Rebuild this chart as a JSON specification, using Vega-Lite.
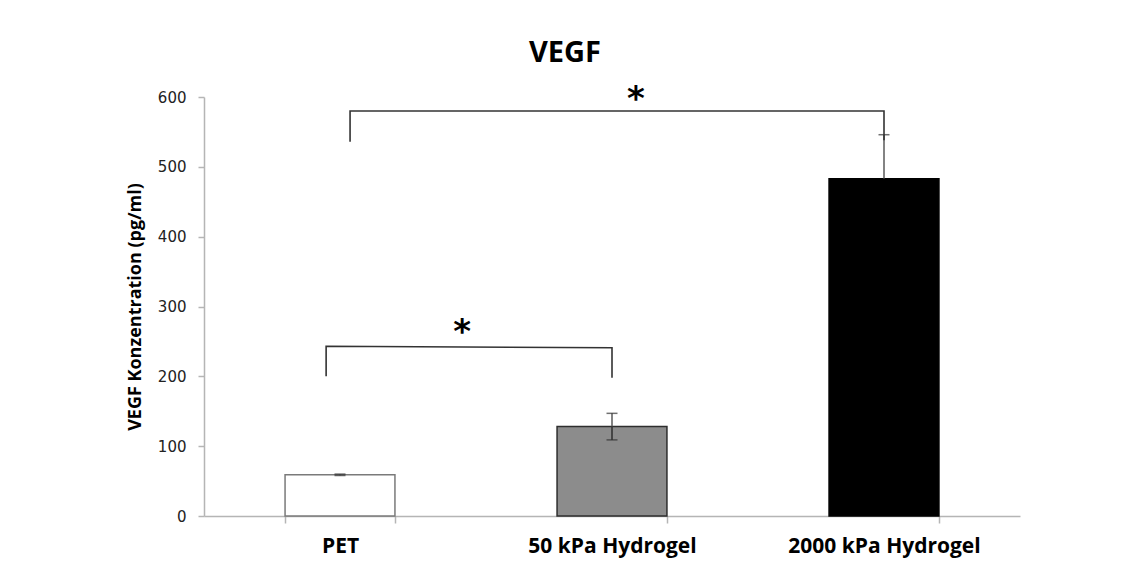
{
  "$schema": "https://vega.github.io/schema/vega-lite/v6.json",
  "width": 816,
  "height": 419,
  "autosize": {"type": "none"},
  "padding": {"left": 204, "top": 97, "right": 113, "bottom": 59},
  "background": "white",
  "title": {
    "text": "VEGF",
    "font": "Open Sans",
    "fontSize": 29,
    "fontWeight": "bold",
    "color": "#000000",
    "anchor": "middle",
    "frame": "group",
    "dx": -47,
    "offset": 15
  },
  "datasets": {
    "groups": [
      {"material": "PET", "mean": 59, "lo": 58, "hi": 60},
      {"material": "50 kPa Hydrogel", "mean": 128, "lo": 109, "hi": 147},
      {"material": "2000 kPa Hydrogel", "mean": 483, "lo": 420, "hi": 546}
    ],
    "brackets": [
      {"pair": "PET vs 50 kPa", "step": 1, "pos": 0.449, "v": 200},
      {"pair": "PET vs 50 kPa", "step": 2, "pos": 0.449, "v": 243},
      {"pair": "PET vs 50 kPa", "step": 3, "pos": 1.5, "v": 241},
      {"pair": "PET vs 50 kPa", "step": 4, "pos": 1.5, "v": 198},
      {"pair": "PET vs 2000 kPa", "step": 1, "pos": 0.537, "v": 536},
      {"pair": "PET vs 2000 kPa", "step": 2, "pos": 0.537, "v": 580},
      {"pair": "PET vs 2000 kPa", "step": 3, "pos": 2.5, "v": 580},
      {"pair": "PET vs 2000 kPa", "step": 4, "pos": 2.5, "v": 538}
    ],
    "stars": [
      {"pair": "PET vs 50 kPa", "pos": 0.949, "v": 262, "label": "*"},
      {"pair": "PET vs 2000 kPa", "pos": 1.588, "v": 596, "label": "*"}
    ]
  },
  "config": {
    "view": {"stroke": null},
    "axis": {"grid": false}
  },
  "resolve": {"scale": {"x": "independent"}},
  "layer": [
    {
      "data": {"name": "groups"},
      "encoding": {
        "x": {
          "field": "material",
          "type": "nominal",
          "sort": null,
          "scale": {"paddingInner": 0.596, "paddingOuter": 0.298},
          "axis": {
            "title": null,
            "labelAngle": 0,
            "labelFont": "Open Sans",
            "labelFontSize": 21,
            "labelFontWeight": "bold",
            "labelColor": "#000000",
            "labelLimit": 0,
            "labelPadding": 12,
            "tickBand": "extent",
            "tickSize": 7,
            "tickWidth": 1.5,
            "domainWidth": 1.5,
            "tickColor": "#b5b5b5",
            "domainColor": "#b5b5b5"
          }
        }
      },
      "layer": [
        {
          "mark": {"type": "bar", "strokeWidth": 1.5},
          "encoding": {
            "y": {
              "field": "mean",
              "type": "quantitative",
              "scale": {"domain": [0, 600], "nice": false},
              "axis": {
                "title": "VEGF Konzentration (pg/ml)",
                "values": [0, 100, 200, 300, 400, 500, 600],
                "labelFont": "DejaVu Sans",
                "labelFontSize": 15,
                "labelColor": "#222222",
                "labelPadding": 12,
                "tickSize": 6,
                "tickWidth": 1.5,
                "domainWidth": 1.5,
                "tickColor": "#b5b5b5",
                "domainColor": "#b5b5b5",
                "titleFont": "Open Sans",
                "titleFontSize": 18,
                "titleFontWeight": "bold",
                "titleColor": "#000000",
                "titlePadding": 13
              }
            },
            "fill": {
              "field": "material",
              "type": "nominal",
              "scale": {
                "domain": ["PET", "50 kPa Hydrogel", "2000 kPa Hydrogel"],
                "range": ["#ffffff", "#8c8c8c", "#000000"]
              },
              "legend": null
            },
            "stroke": {
              "field": "material",
              "type": "nominal",
              "scale": {
                "domain": ["PET", "50 kPa Hydrogel", "2000 kPa Hydrogel"],
                "range": ["#7a7a7a", "#2e2e2e", "#000000"]
              },
              "legend": null
            }
          }
        },
        {
          "mark": {"type": "rule", "color": "#5a5a5a", "strokeWidth": 1.5},
          "encoding": {
            "y": {"field": "mean", "type": "quantitative", "title": "VEGF Konzentration (pg/ml)"},
            "y2": {"field": "hi"}
          }
        },
        {
          "mark": {"type": "rule", "strokeWidth": 1.5},
          "encoding": {
            "y": {"field": "lo", "type": "quantitative", "title": "VEGF Konzentration (pg/ml)"},
            "y2": {"field": "mean"},
            "stroke": {
              "field": "material",
              "type": "nominal",
              "scale": {
                "domain": ["PET", "50 kPa Hydrogel", "2000 kPa Hydrogel"],
                "range": ["#444444", "#444444", "#000000"]
              },
              "legend": null
            }
          }
        },
        {
          "mark": {"type": "tick", "color": "#333333", "thickness": 1.5, "size": 11},
          "encoding": {
            "y": {"field": "hi", "type": "quantitative", "title": "VEGF Konzentration (pg/ml)"}
          }
        },
        {
          "mark": {"type": "tick", "thickness": 1.5, "size": 11},
          "encoding": {
            "y": {"field": "lo", "type": "quantitative", "title": "VEGF Konzentration (pg/ml)"},
            "color": {
              "field": "material",
              "type": "nominal",
              "scale": {
                "domain": ["PET", "50 kPa Hydrogel", "2000 kPa Hydrogel"],
                "range": ["#333333", "#333333", "#000000"]
              },
              "legend": null
            }
          }
        }
      ]
    },
    {
      "layer": [
        {
          "data": {"name": "brackets"},
          "mark": {"type": "line", "color": "#333333", "strokeWidth": 1.6, "interpolate": "linear"},
          "encoding": {
            "x": {"field": "pos", "type": "quantitative", "scale": {"domain": [0, 3], "nice": false, "zero": false}, "axis": null},
            "y": {"field": "v", "type": "quantitative", "title": "VEGF Konzentration (pg/ml)"},
            "detail": {"field": "pair"},
            "order": {"field": "step"}
          }
        },
        {
          "data": {"name": "stars"},
          "mark": {"type": "text", "font": "DejaVu Sans", "fontSize": 34, "fontWeight": "bold", "color": "#000000", "baseline": "middle"},
          "encoding": {
            "x": {"field": "pos", "type": "quantitative", "scale": {"domain": [0, 3], "nice": false, "zero": false}, "axis": null},
            "y": {"field": "v", "type": "quantitative", "title": "VEGF Konzentration (pg/ml)"},
            "text": {"field": "label"}
          }
        }
      ]
    }
  ]
}
